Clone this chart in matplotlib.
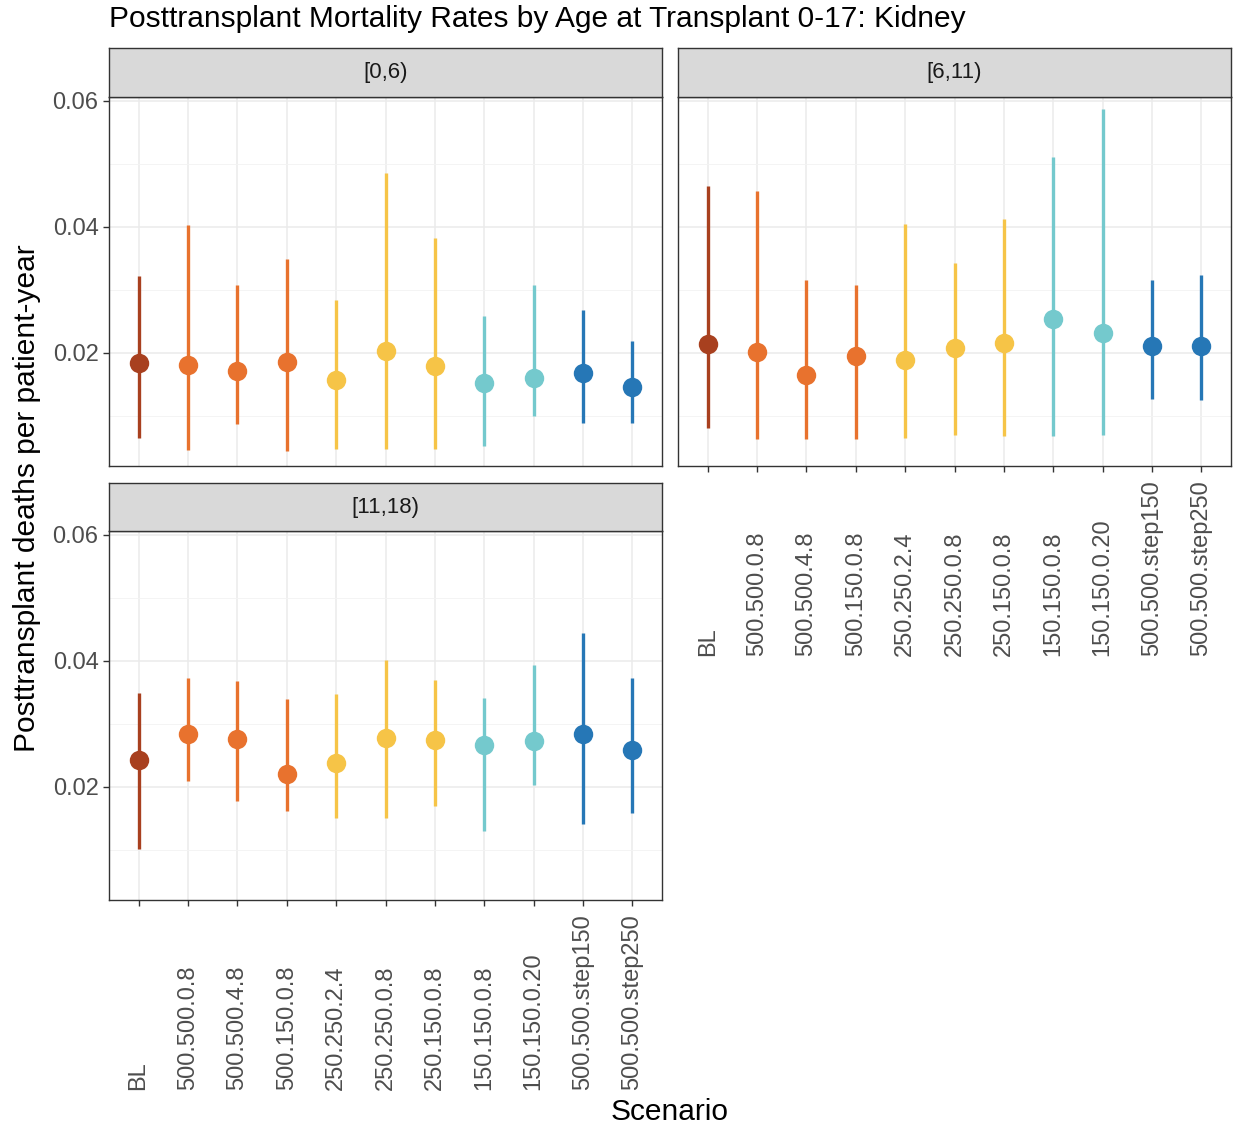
import matplotlib.pyplot as plt
from matplotlib.ticker import MultipleLocator

plt.rcParams['font.family'] = ['Liberation Sans', 'DejaVu Sans']

scenarios = ["BL", "500.500.0.8", "500.500.4.8", "500.150.0.8", "250.250.2.4",
             "250.250.0.8", "250.150.0.8", "150.150.0.8", "150.150.0.20",
             "500.500.step150", "500.500.step250"]
colors = ["#a8401f", "#e8722e", "#e8722e", "#e8722e", "#f6c447", "#f6c447",
          "#f6c447", "#74c9cd", "#74c9cd", "#2677b6", "#2677b6"]

# [0,6)
est_0_6 = [0.0184, 0.0181, 0.0171, 0.0185, 0.0157, 0.0202, 0.0179, 0.0152, 0.0159, 0.0168, 0.0146]
lo_0_6 = [0.0064, 0.0045, 0.0086, 0.0044, 0.0047, 0.0047, 0.0047, 0.0051, 0.0100, 0.0088, 0.0088]
hi_0_6 = [0.0321, 0.0403, 0.0308, 0.0348, 0.0284, 0.0486, 0.0382, 0.0258, 0.0308, 0.0267, 0.0218]

# [6,11)
est_6_11 = [0.0214, 0.0201, 0.0165, 0.0194, 0.0188, 0.0207, 0.0216, 0.0253, 0.0231, 0.0211, 0.0210]
lo_6_11 = [0.0081, 0.0063, 0.0063, 0.0063, 0.0065, 0.0069, 0.0068, 0.0068, 0.0069, 0.0127, 0.0125]
hi_6_11 = [0.0464, 0.0456, 0.0315, 0.0307, 0.0404, 0.0342, 0.0412, 0.0510, 0.0587, 0.0315, 0.0324]

# [11,18)
est_11_18 = [0.0243, 0.0284, 0.0275, 0.0220, 0.0237, 0.0278, 0.0274, 0.0266, 0.0273, 0.0284, 0.0259]
lo_11_18 = [0.0101, 0.0209, 0.0178, 0.0162, 0.0150, 0.0150, 0.0169, 0.0129, 0.0203, 0.0141, 0.0158]
hi_11_18 = [0.0349, 0.0372, 0.0368, 0.0339, 0.0347, 0.0401, 0.0369, 0.0340, 0.0393, 0.0444, 0.0373]

panels = [("[0,6)", est_0_6, lo_0_6, hi_0_6),
          ("[6,11)", est_6_11, lo_6_11, hi_6_11),
          ("[11,18)", est_11_18, lo_11_18, hi_11_18)]

W, H = 1236, 1128
fig = plt.figure(figsize=(W / 100, H / 100), dpi=100)

# panel boxes in pixels: left, top, right, bottom (plot area, below the strip)
boxes = [(109, 97, 662, 466), (678, 97, 1231, 466), (109, 531, 662, 900)]
strip_h = [49, 49, 48]
show_y = [True, False, True]
show_x = [False, True, True]

ymin, ymax = 0.0020, 0.0606
x = list(range(len(scenarios)))

for (title, est, lo, hi), (l, t, r, b), sh, sy, sx in zip(panels, boxes, strip_h, show_y, show_x):
    ax = fig.add_axes([l / W, 1 - b / H, (r - l) / W, (b - t) / H])
    ax.set_ylim(ymin, ymax)
    ax.set_xlim(-0.6, len(scenarios) - 0.4)
    ax.yaxis.set_major_locator(MultipleLocator(0.02))
    ax.yaxis.set_minor_locator(MultipleLocator(0.01))
    ax.set_xticks(x)
    ax.grid(True, which="major", color="#ebebeb", lw=1.1, zorder=0)
    ax.grid(True, which="minor", axis="y", color="#f3f3f3", lw=0.6, zorder=0)
    ax.set_axisbelow(True)
    for s in ax.spines.values():
        s.set_color("#333333")
        s.set_linewidth(1.0)

    for i in x:
        ax.plot([i, i], [lo[i], hi[i]], color=colors[i], lw=2.4, solid_capstyle="butt", zorder=3)
        ax.plot(i, est[i], "o", color=colors[i], ms=14, mec="none", zorder=4)

    ax.tick_params(axis="both", colors="#333333", length=4, width=1, labelsize=17, labelcolor="#4d4d4d")
    ax.tick_params(axis="y", which="minor", length=0)
    if sy:
        ax.set_yticklabels([f"{v:.2f}" for v in ax.get_yticks()])
        ax.set_ylim(ymin, ymax)
    else:
        ax.tick_params(axis="y", which="both", left=False, labelleft=False)
    if sx:
        ax.set_xticklabels(scenarios, rotation=90, rotation_mode="anchor", ha="left", va="center")
        ax.tick_params(axis="x", pad=133)
    else:
        ax.tick_params(axis="x", bottom=False, labelbottom=False)

    # facet strip
    sax = fig.add_axes([l / W, 1 - t / H, (r - l) / W, sh / H])
    sax.set_facecolor("#d9d9d9")
    sax.set_xticks([])
    sax.set_yticks([])
    for s in sax.spines.values():
        s.set_color("#333333")
        s.set_linewidth(1.0)
    sax.text(0.5, 0.5, title, ha="center", va="center", fontsize=16, color="#1a1a1a",
             transform=sax.transAxes)

fig.text(109 / W, 1 - 19 / H, "Posttransplant Mortality Rates by Age at Transplant 0-17: Kidney",
         ha="left", va="center", fontsize=21.5, color="black")
fig.text(27 / W, 1 - 498 / H, "Posttransplant deaths per patient-year", rotation=90,
         ha="center", va="center", fontsize=21.5, color="black")
fig.text(670 / W, 1 - 1112 / H, "Scenario", ha="center", va="center", fontsize=21.5, color="black")

fig.savefig("out.png", dpi=100, facecolor="white")
